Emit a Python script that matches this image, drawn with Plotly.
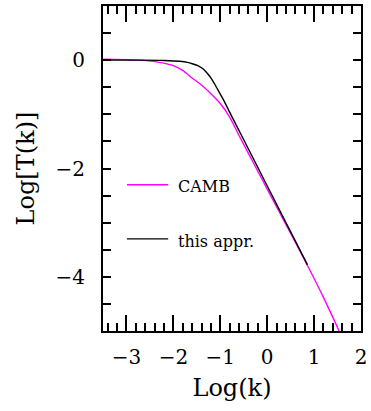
import plotly.graph_objects as go

# CAMB transfer function (log-log)
camb_x = [-3.5, -3.0, -2.7, -2.3, -2.0, -1.8, -1.6, -1.4, -1.2, -1.0, -0.8, -0.6,
          -0.4, -0.2, 0.0, 0.3, 0.6, 0.9, 1.2, 1.55]
camb_y = [0.02, 0.01, 0.0, -0.04, -0.10, -0.19, -0.33, -0.46, -0.62, -0.80, -1.05,
          -1.39, -1.72, -2.05, -2.38, -2.87, -3.36, -3.86, -4.38, -5.03]

# "this appr." curve
appr_x = [-3.5, -2.7, -2.2, -1.86, -1.7, -1.58, -1.48, -1.4, -1.33, -1.26, -1.19,
          -1.12, -1.03, -0.94, -0.73, -0.5, -0.2, 0.1, 0.4, 0.86]
appr_y = [0.0, 0.0, -0.005, -0.02, -0.04, -0.07, -0.10, -0.14, -0.19, -0.26, -0.34,
          -0.44, -0.58, -0.72, -1.08, -1.47, -1.98, -2.49, -3.00, -3.78]

x_ticks = [-3, -2, -1, 0, 1, 2]
y_ticks = [0, -2, -4]

legend_names = ["CAMB", "this appr."]
legend_colors = ["#ff00ff", "#000000"]
legend_y = [-2.30, -3.30]

FONT = "DejaVu Serif"

fig = go.Figure()
fig.add_trace(go.Scatter(x=camb_x, y=camb_y, mode="lines",
                         line=dict(color="#ff00ff", width=1.4, shape="spline", smoothing=0.6),
                         name="CAMB"))
fig.add_trace(go.Scatter(x=appr_x, y=appr_y, mode="lines",
                         line=dict(color="#000000", width=1.4, shape="spline", smoothing=0.6),
                         name="this appr."))

# hand-drawn style legend inside the plot
for name, col, yy in zip(legend_names, legend_colors, legend_y):
    fig.add_shape(type="line", x0=-2.99, x1=-2.11, y0=yy, y1=yy,
                  xref="x", yref="y", line=dict(color=col, width=1.4))
    fig.add_annotation(x=-1.95, y=yy - 0.04, text=name, showarrow=False,
                       xanchor="left", yanchor="middle",
                       font=dict(family=FONT, size=16, color="black"))

axis_common = dict(
    showline=True, linecolor="black", linewidth=2, mirror="allticks",
    ticks="inside", tickcolor="black", tickwidth=1.5,
    showgrid=False, zeroline=False,
    tickfont=dict(family=FONT, size=20, color="black"),
)

fig.update_xaxes(**axis_common, range=[-3.5, 2], tickvals=x_ticks, ticklen=16,
                 minor=dict(tick0=0, dtick=0.2, ticks="inside", ticklen=8,
                            tickwidth=1.5, tickcolor="black", showgrid=False),
                 ticklabelstandoff=7,
                 title=dict(text="Log(k)", font=dict(family=FONT, size=24, color="black"),
                            standoff=11))
fig.update_yaxes(**axis_common, range=[-5, 1], tickvals=y_ticks, ticklen=8,
                 minor=dict(tick0=0, dtick=0.5, ticks="inside", ticklen=8,
                            tickwidth=1.5, tickcolor="black", showgrid=False),
                 ticklabelstandoff=12,
                 title=dict(text="Log[T(k)]", font=dict(family=FONT, size=24, color="black"),
                            standoff=14))

fig.update_layout(width=371, height=411, showlegend=False,
                  margin=dict(l=103, r=9, t=4, b=80),
                  paper_bgcolor="white", plot_bgcolor="white")

fig.write_html("out.html")
